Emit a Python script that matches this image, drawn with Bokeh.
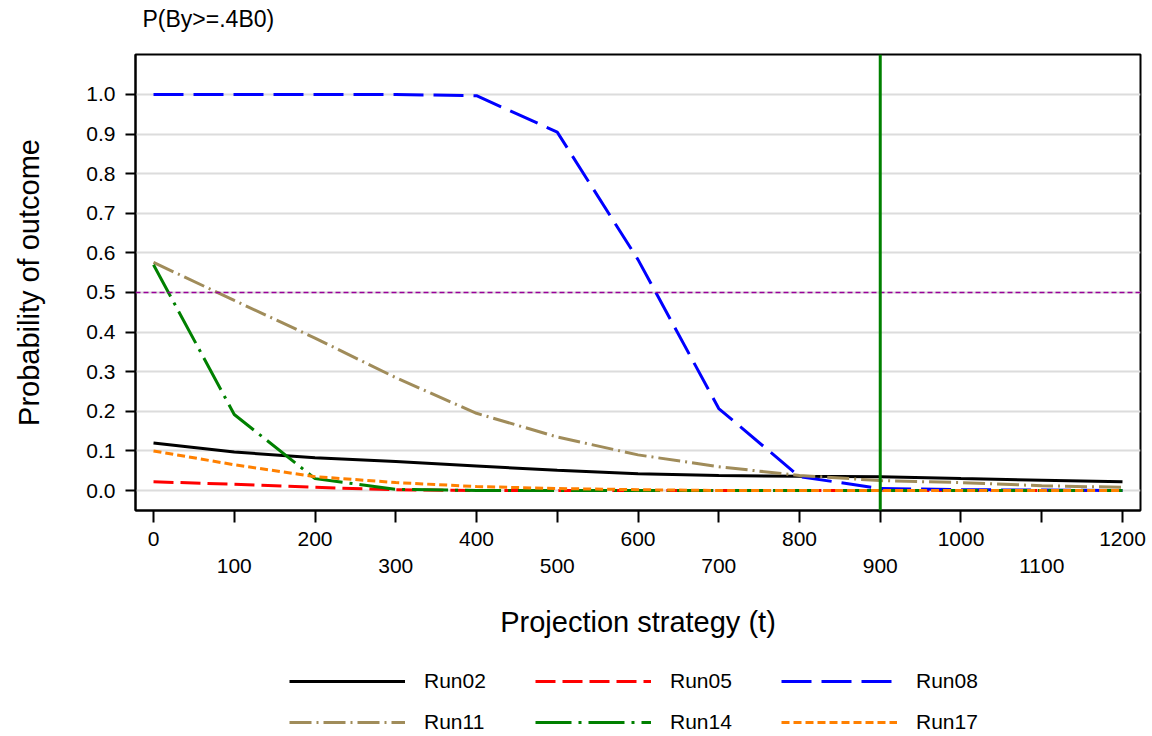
from bokeh.plotting import figure
from bokeh.models import (Range1d, FixedTicker, LinearAxis, Span, Legend, LegendItem, Title)
from bokeh.layouts import column
from bokeh.embed import file_html
from bokeh.resources import INLINE

# ---- data ----
t = [0, 100, 200, 300, 400, 500, 600, 700, 800, 900, 1000, 1100, 1200]
run02 = [0.120, 0.097, 0.083, 0.073, 0.062, 0.051, 0.042, 0.038, 0.036, 0.035, 0.030, 0.026, 0.022]
run05 = [0.022, 0.016, 0.008, 0.002, 0.000, 0.000, 0.000, 0.000, 0.000, 0.000, 0.000, 0.000, 0.000]
run08 = [1.000, 1.000, 1.000, 1.000, 0.997, 0.905, 0.583, 0.207, 0.035, 0.005, 0.002, 0.001, 0.000]
run11 = [0.576, 0.480, 0.385, 0.285, 0.195, 0.135, 0.090, 0.060, 0.038, 0.025, 0.020, 0.012, 0.008]
run14 = [0.570, 0.192, 0.030, 0.003, 0.000, 0.000, 0.000, 0.000, 0.000, 0.000, 0.000, 0.000, 0.000]
run17 = [0.100, 0.065, 0.035, 0.020, 0.010, 0.005, 0.002, 0.000, 0.000, 0.000, 0.000, 0.000, 0.000]
series_names = ["Run02", "Run05", "Run08", "Run11", "Run14", "Run17"]
y_ticks = [0.0, 0.1, 0.2, 0.3, 0.4, 0.5, 0.6, 0.7, 0.8, 0.9, 1.0]
x_ticks_even = [0, 200, 400, 600, 800, 1000, 1200]
x_ticks_odd = [100, 300, 500, 700, 900, 1100]
ref_prob = 0.5
ref_t = 900
title_text = "P(By>=.4B0)"

FONT = "Liberation Sans"
TICK_FS = "21px"
LABEL_FS = "29px"

p = figure(frame_width=1005, frame_height=456, output_backend="svg", toolbar_location=None,
           x_range=Range1d(-22.3, 1222.3), y_range=Range1d(-0.0505, 1.101),
           x_axis_location=None)
p.title = None
p.min_border_left = 135
p.min_border_right = 12
p.min_border_top = 54
p.min_border_bottom = 150
p.outline_line_color = "black"
p.outline_line_width = 2
p.background_fill_color = "white"
p.border_fill_color = "white"

# spacer between title and frame, then the title itself
spacer = Title(text=" ", text_font_size="10px", standoff=10, text_color="white")
p.add_layout(spacer, "above")
ttl = Title(text=title_text, text_font=FONT, text_font_size="23px", text_font_style="normal",
            text_color="black", align="left", offset=7, standoff=0)
p.add_layout(ttl, "above")

# y axis
ya = p.yaxis[0]
ya.ticker = FixedTicker(ticks=y_ticks)
ya.major_label_overrides = {v: f"{v:.1f}" for v in y_ticks}
ya.axis_label = "Probability of outcome"
ya.axis_label_text_font = FONT
ya.axis_label_text_font_size = LABEL_FS
ya.axis_label_text_font_style = "normal"
ya.axis_label_text_color = "black"
ya.major_label_text_font = FONT
ya.major_label_text_font_size = TICK_FS
ya.major_label_text_color = "black"
ya.major_tick_out = 10
ya.major_tick_in = 0
ya.minor_tick_out = 0
ya.minor_tick_in = 0
ya.axis_line_width = 2
ya.major_tick_line_width = 2
ya.major_label_standoff = 10
ya.axis_label_standoff = 38

p.xgrid.visible = False
p.ygrid.ticker = FixedTicker(ticks=y_ticks)
p.ygrid.grid_line_color = "#DCDCDC"
p.ygrid.grid_line_width = 2

# x axes (staggered labels)
xa1 = LinearAxis(ticker=FixedTicker(ticks=x_ticks_even + x_ticks_odd))
xa1.major_label_overrides = {v: ("" if v in x_ticks_odd else str(v)) for v in x_ticks_even + x_ticks_odd}
xa1.major_tick_out = 12
xa1.major_tick_in = 0
xa1.minor_tick_out = 0
xa1.axis_line_width = 2
xa1.major_tick_line_width = 2
xa1.major_label_text_font = FONT
xa1.major_label_text_font_size = TICK_FS
xa1.major_label_text_color = "black"
xa1.major_label_standoff = 9
p.add_layout(xa1, "below")

xa2 = LinearAxis(ticker=FixedTicker(ticks=x_ticks_odd))
xa2.axis_line_color = None
xa2.major_tick_line_color = None
xa2.minor_tick_line_color = None
xa2.major_tick_out = 0
xa2.major_tick_in = 0
xa2.major_label_standoff = 10
xa2.major_label_text_font = FONT
xa2.major_label_text_font_size = TICK_FS
xa2.major_label_text_color = "black"
xa2.axis_label = "Projection strategy (t)"
xa2.axis_label_text_font = FONT
xa2.axis_label_text_font_size = LABEL_FS
xa2.axis_label_text_font_style = "normal"
xa2.axis_label_text_color = "black"
xa2.axis_label_standoff = 30
p.add_layout(xa2, "below")

# reference lines
p.add_layout(Span(location=ref_prob, dimension="width", line_color="#990099",
                  line_dash="5 3", line_width=1.5))
p.add_layout(Span(location=ref_t, dimension="height", line_color="#008000",
                  line_width=3))

styles = [
    ("black", "solid"),
    ("#FF0000", "20 7"),
    ("#0000FF", "30 10"),
    ("#A08C5A", "22 5 2 5"),
    ("#008000", "36 7 3 7"),
    ("#FF8000", "8 4"),
]
data = [run02, run05, run08, run11, run14, run17]
for name, ys, (col, dash) in zip(series_names, data, styles):
    p.line(t, ys, line_color=col, line_dash=dash, line_width=3)

# legend in its own strip below the plot (series kept out of view there)
pl = figure(width=1152, height=736 - 54 - 456 - 150, output_backend="svg", toolbar_location=None,
            x_range=Range1d(5000, 6000), y_range=Range1d(5, 6),
            x_axis_location=None, y_axis_location=None)
pl.min_border = 0
pl.outline_line_color = None
pl.grid.visible = False
items = []
for name, ys, (col, dash) in zip(series_names, data, styles):
    r = pl.line(t, ys, line_color=col, line_dash=dash, line_width=3)
    items.append(LegendItem(label=name, renderers=[r]))

legend = Legend(items=items, ncols=3, location=(154, 1), orientation="horizontal")
legend.border_line_color = None
legend.background_fill_alpha = 0
legend.glyph_width = 116
legend.glyph_height = 26
legend.label_height = 26
legend.label_width = 96
legend.label_standoff = 19
legend.spacing = 15
legend.padding = 0
legend.margin = 0
legend.label_text_font = FONT
legend.label_text_font_size = "21px"
legend.label_text_color = "black"
pl.add_layout(legend, "center")

layout = column(p, pl, spacing=0)
open("out.html", "w").write(file_html(layout, INLINE))
